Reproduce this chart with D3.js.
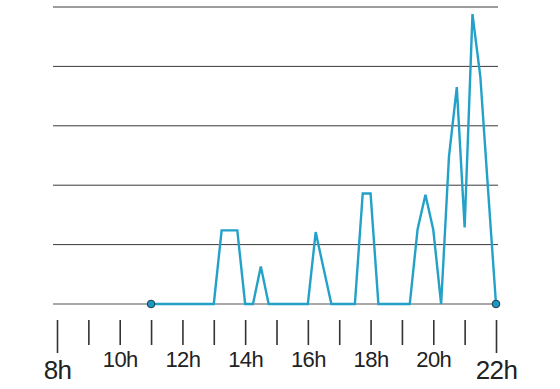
<!DOCTYPE html>
<html>
<head>
<meta charset="utf-8">
<script src="https://cdn.jsdelivr.net/npm/d3@7"></script>
<style>
  body { margin: 0; background: #fff; }
  text { font-family: "Liberation Sans", Arial, sans-serif; fill: #222; }
</style>
</head>
<body>
<div id="chart"></div>
<script>
// Sample times (15 min steps) and values
const times = [
  "11:00", "11:15", "11:30", "11:45", "12:00", "12:15", "12:30", "12:45", "13:00",
  "13:15", "13:30", "13:45", "14:00", "14:15", "14:30", "14:45",
  "15:00", "15:15", "15:30", "15:45", "16:00", "16:15", "16:30", "16:45",
  "17:00", "17:15", "17:30", "17:45", "18:00", "18:15", "18:30", "18:45",
  "19:00", "19:15", "19:30", "19:45", "20:00", "20:15", "20:30", "20:45",
  "21:00", "21:15", "21:30", "21:45", "22:00"
]
const values = [
  0, 0, 0, 0, 0, 0, 0, 0, 0,
  12.4, 12.4, 12.4, 0, 0, 6.3, 0,
  0, 0, 0, 0, 0, 12.1, 6, 0,
  0, 0, 0, 18.6, 18.6, 0, 0, 0,
  0, 0, 12.6, 18.4, 12.5, 0, 24.8, 36.5,
  12.9, 48.8, 38.3, 19, 0
]
const hourTicks = d3.range(8, 23)
const hourLabels = [8, 10, 12, 14, 16, 18, 20, 22]
const gridValues = [10, 20, 30, 40, 50]

const width = 560, height = 389

const data = times.map((t, i) => {
  let p = t.split(':')
  return { h: +p[0] + (+p[1]) / 60, v: values[i] }
})

const x = d3.scaleLinear().domain([8, 22]).range([57, 496])
const y = d3.scaleLinear().domain([0, 50]).range([304, 7])

const svg = d3.select('#chart').append('svg')
  .attr('width', width)
  .attr('height', height)

// Gridlines
svg.append('g').selectAll('line')
  .data(gridValues)
  .join('line')
  .attr('x1', 53)
  .attr('x2', 498)
  .attr('y1', d => y(d))
  .attr('y2', d => y(d))
  .style('stroke', '#3a3a3a')
  .style('stroke-width', 1)

// Baseline
svg.append('line')
  .attr('x1', 53)
  .attr('x2', x(22))
  .attr('y1', y(0))
  .attr('y2', y(0))
  .style('stroke', '#555')
  .style('stroke-width', 1.2)

// X axis
const xAxis = d3.axisBottom(x)
  .tickValues(hourTicks)
  .tickSize(25)
  .tickFormat(d => hourLabels.includes(d) ? d + 'h' : '')

const gx = svg.append('g')
  .attr('transform', 'translate(0,320)')
  .call(xAxis)

gx.select('.domain').remove()
gx.selectAll('.tick line')
  .attr('y2', d => (d == 8 || d == 22) ? 33 : 25)
  .style('stroke', '#333')
  .style('stroke-width', 1.6)
gx.selectAll('.tick text')
  .attr('y', d => (d == 8 || d == 22) ? 59 : 47)
  .attr('dy', 0)
  .style('font-size', d => (d == 8 || d == 22) ? '26px' : '22px')
  .style('letter-spacing', '-0.6px')
  .style('fill', '#222')
  .attr('font-family', null)

// Line
const line = d3.line()
  .x(d => x(d.h))
  .y(d => y(d.v))

svg.append('path')
  .datum(data)
  .attr('d', line)
  .style('fill', 'none')
  .style('stroke', '#24a1c9')
  .style('stroke-width', 2.4)
  .style('stroke-linejoin', 'miter')

// End points
svg.append('g').selectAll('circle')
  .data([data[0], data[data.length - 1]])
  .join('circle')
  .attr('cx', d => x(d.h))
  .attr('cy', d => y(d.v))
  .attr('r', 3.8)
  .style('fill', '#1e98c0')
  .style('stroke', '#1f3a48')
  .style('stroke-width', 1)
</script>
</body>
</html>
